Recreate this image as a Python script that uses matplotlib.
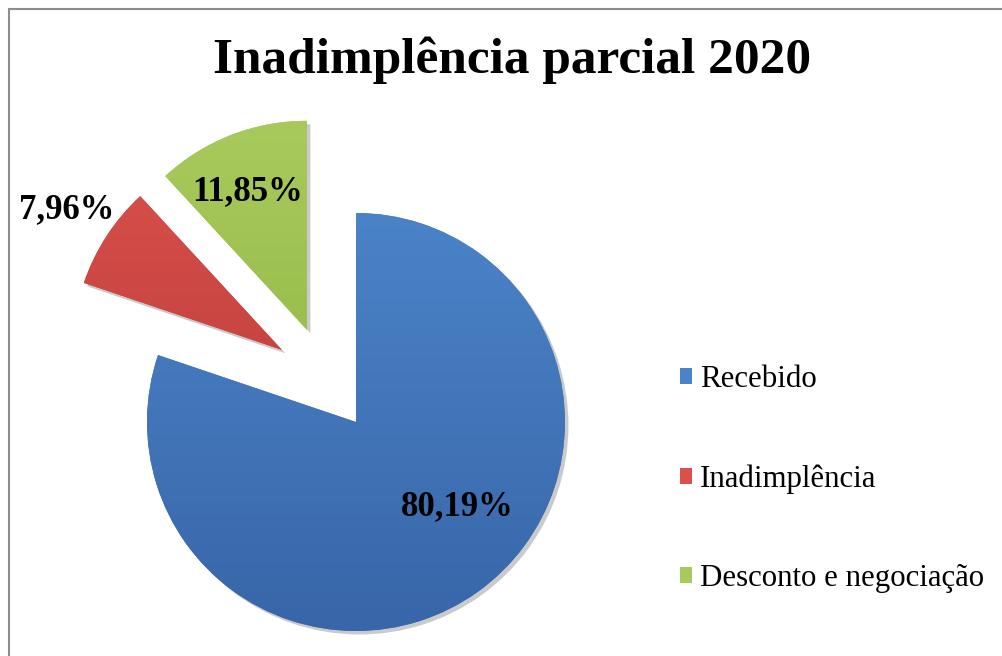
import numpy as np
import matplotlib.pyplot as plt
from matplotlib.patches import Rectangle
from matplotlib.colors import to_rgb

categorias = ["Recebido", "Inadimplência", "Desconto e negociação"]
percentuais = [80.19, 7.96, 11.85]
cores_topo = ["#4b83c8", "#d9504c", "#a8ca5c"]
cores_base = ["#3866a8", "#b63a36", "#8db43e"]
explode = [0, 0.495, 0.5]        # fração do raio
desvio_explode = [0, -11.2, 6.7]  # graus, direção do deslocamento
# rótulos: distância (fração do raio) e desvio angular em graus
dist_rotulo = [0.63, 1.23, 0.72]
desvio_rotulo = [14.6, 0, 1.7]

W, H = 1003, 656
CX, CY, R = 356, H - 422, 209
FONTE = "Liberation Serif"

fig = plt.figure(figsize=(W / 100, H / 100), dpi=100)
ax = fig.add_axes([0, 0, 1, 1])

wedges, _ = ax.pie(percentuais, colors=cores_topo, startangle=90,
                   counterclock=False, center=(CX, CY), radius=R,
                   wedgeprops=dict(edgecolor="none"),
                   shadow=dict(ox=2.5, oy=-2.5, facecolor="#a8a8a8",
                               edgecolor="none", alpha=0.6))

# fatias destacadas
for w, e, s in zip(wedges, explode, desvio_explode):
    ang = np.deg2rad((w.theta1 + w.theta2) / 2 + s)
    w.set_center((CX + e * R * np.cos(ang), CY + e * R * np.sin(ang)))

# gradiente vertical dentro de cada fatia
for w, c1, c2 in zip(wedges, cores_topo, cores_base):
    t = np.linspace(0, 1, 256)[:, None]
    grad = (1 - t) * np.array(to_rgb(c2)) + t * np.array(to_rgb(c1))
    cx, cy = w.center
    im = ax.imshow(grad[:, None, :], origin="lower", aspect="auto",
                   extent=(cx - w.r, cx + w.r, cy - w.r, cy + w.r),
                   zorder=w.get_zorder() + 0.1)
    im.set_clip_path(w)

for w, pct, d, dv in zip(wedges, percentuais, dist_rotulo, desvio_rotulo):
    ang = np.deg2rad((w.theta1 + w.theta2) / 2 + dv)
    x = w.center[0] + d * w.r * np.cos(ang)
    y = w.center[1] + d * w.r * np.sin(ang)
    ax.text(x, y, f"{pct:.2f}%".replace(".", ","), ha="center", va="center",
            fontsize=25, fontweight="bold", family=FONTE, zorder=5)

ax.set_xlim(0, W)
ax.set_ylim(0, H)
ax.set_aspect("equal")
ax.axis("off")

fig.text(512 / W, 1 - 60 / H, "Inadimplência parcial 2020", ha="center",
         va="center", fontsize=37, fontweight="bold", family=FONTE)

fig.legend(wedges, categorias, loc="center left",
           bbox_to_anchor=(680 / W, 1 - 479 / H), frameon=False,
           prop=dict(family=FONTE, size=22.2), handlelength=0.4,
           handleheight=0.4, handletextpad=0.25, labelspacing=2.28,
           borderpad=0, borderaxespad=0)

# moldura do gráfico (cortada à direita e embaixo)
fig.patches.append(Rectangle((9 / W, -0.1), 1.2, 1.1 - 9 / H, fill=False,
                             edgecolor="#8c8c8c", linewidth=1.5,
                             transform=fig.transFigure))

fig.savefig("out.png", dpi=100)
